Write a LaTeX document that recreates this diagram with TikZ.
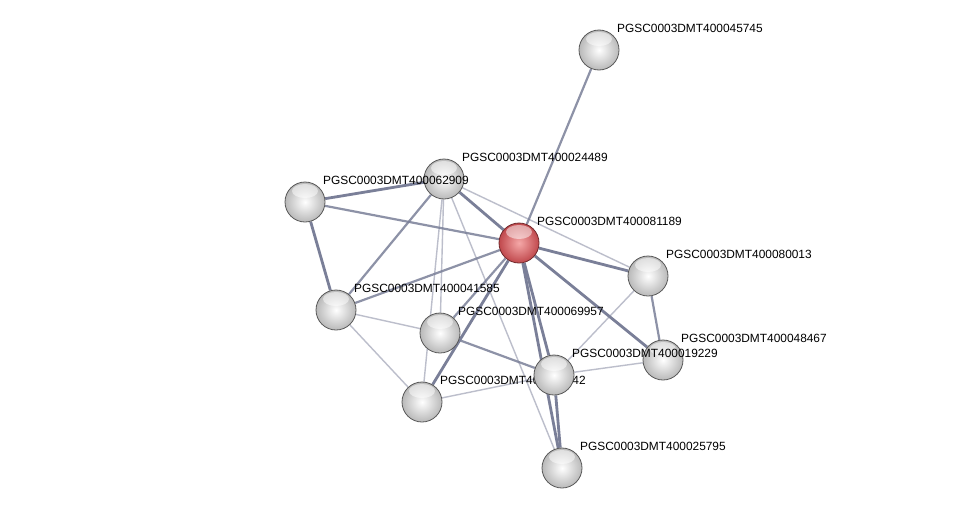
\documentclass[tikz,border=0pt]{standalone}
\usepackage{fontspec}
\setmainfont{Liberation Sans}
\usetikzlibrary{positioning}

\definecolor{edgec}{RGB}{122,127,152}
\definecolor{seedin}{RGB}{245,168,168}
\definecolor{seedout}{RGB}{192,72,76}
\pgfdeclarelayer{background}
\pgfsetlayers{background,main}

\tikzset{
  prot/.style={circle,minimum size=40pt,inner sep=0pt,draw=gray!70!black,line width=0.8pt,
    shading=radial,inner color=white,outer color=gray!55,
    path picture={\fill[white,opacity=0.5] ([yshift=-9pt]path picture bounding box.north) ellipse (13pt and 7pt);}},
  seed/.style={prot,draw=seedout!60!black,inner color=seedin,outer color=seedout},
  lab/.style={anchor=base west,inner sep=0pt,font=\fontsize{11.9}{14}\selectfont},
  strong/.style={draw=edgec,line width=2.8pt},
  mid/.style={draw=edgec,line width=2.2pt,opacity=0.85},
  weak/.style={draw=edgec,line width=1.4pt,opacity=0.5},
}

\begin{document}
\begin{tikzpicture}[x=1pt,y=-1pt]
    \useasboundingbox (0,0) rectangle (976,514);

    % proteins, each with its label
    \node[prot] (n45745) at (599,50) {};
    \node[lab] (t45745) at ([shift={(18,-17.5)}]n45745.center) {PGSC0003DMT400045745};
    \node[prot] (n24489) at (444,179) {};
    \node[lab] (t24489) at ([shift={(18,-17.5)}]n24489.center) {PGSC0003DMT400024489};
    \node[prot] (n62909) at (305,202) {};
    \node[lab] (t62909) at ([shift={(18,-17.5)}]n62909.center) {PGSC0003DMT400062909};
    \node[seed] (n81189) at (519,243) {};
    \node[lab] (t81189) at ([shift={(18,-17.5)}]n81189.center) {PGSC0003DMT400081189};
    \node[prot] (n80013) at (648,276) {};
    \node[lab] (t80013) at ([shift={(18,-17.5)}]n80013.center) {PGSC0003DMT400080013};
    \node[prot] (n41585) at (336,310) {};
    \node[lab] (t41585) at ([shift={(18,-17.5)}]n41585.center) {PGSC0003DMT400041585};
    \node[prot] (n69957) at (440,333) {};
    \node[lab] (t69957) at ([shift={(18,-17.5)}]n69957.center) {PGSC0003DMT400069957};
    \node[prot] (n48467) at (663,360) {};
    \node[lab] (t48467) at ([shift={(18,-17.5)}]n48467.center) {PGSC0003DMT400048467};
    \node[prot] (n64242) at (422,402) {};
    \node[lab] (t64242) at ([shift={(18,-17.5)}]n64242.center) {PGSC0003DMT400064242};
    \node[prot] (n19229) at (554,375) {};
    \node[lab] (t19229) at ([shift={(18,-17.5)}]n19229.center) {PGSC0003DMT400019229};
    \node[prot] (n25795) at (562,468) {};
    \node[lab] (t25795) at ([shift={(18,-17.5)}]n25795.center) {PGSC0003DMT400025795};

    \begin{pgfonlayer}{background}
    \fill[white] (0,0) rectangle (976,514);
    \foreach \a/\b in {81189/24489,81189/80013,81189/48467,81189/19229,81189/25795,
                       81189/64242,62909/41585,62909/24489,19229/25795}
        \draw[strong] (n\a) -- (n\b);
    \foreach \a/\b in {45745/81189,62909/81189,24489/41585,81189/41585,81189/69957,
                       80013/48467,69957/19229}
        \draw[mid] (n\a) -- (n\b);
    \foreach \a/\b in {24489/80013,24489/25795,24489/69957,24489/64242,80013/19229,
                       41585/69957,41585/64242,64242/19229,19229/48467}
        \draw[weak] (n\a) -- (n\b);
    \end{pgfonlayer}
\end{tikzpicture}
\end{document}
